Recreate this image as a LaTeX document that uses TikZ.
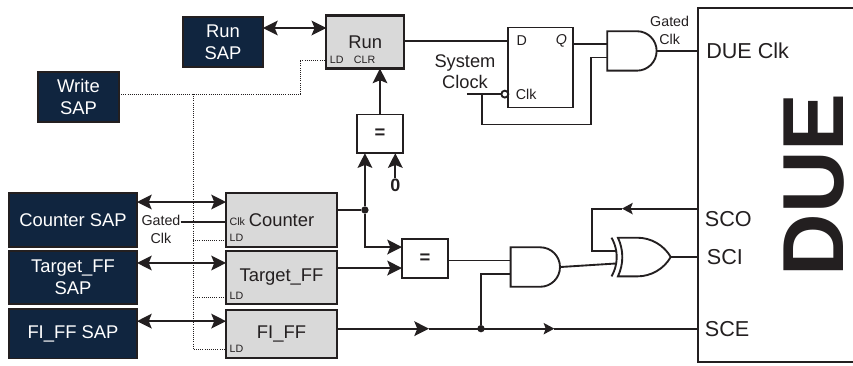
\documentclass[tikz,border=0pt]{standalone}
\usepackage{fontspec}
\setmainfont{Liberation Sans}
\usetikzlibrary{shapes,shapes.gates.logic.US,arrows.meta,positioning,calc}
\definecolor{sapblue}{HTML}{10253F}
\definecolor{reggray}{HTML}{D9D9D9}
\definecolor{inkdark}{HTML}{231F20}
\tikzstyle{sapbox} = [rectangle, draw=inkdark, line width=1pt, fill=sapblue, text=white, align=center, outer sep=0pt, minimum width=96pt, font=\fontsize{13.8}{16.5}\selectfont]
\tikzstyle{reg} = [rectangle, draw=inkdark, line width=1.6pt, fill=reggray, text=inkdark, outer sep=0pt, minimum width=83.25pt, font=\fontsize{13.8}{16}\selectfont]
\tikzstyle{eqbox} = [rectangle, draw=inkdark, line width=1.4pt, fill=white, text=inkdark, outer sep=0pt, minimum width=34.5pt, minimum height=29pt, font=\fontsize{13.8}{16}\bfseries]
\tikzstyle{ldlabel} = [text=inkdark, inner xsep=2.5pt, inner ysep=3.5pt, font=\fontsize{8}{9}\selectfont]
\tikzstyle{midlabel} = [text=inkdark, inner sep=0pt, align=center, font=\fontsize{10.7}{13.5}\selectfont]
\tikzstyle{bigtext} = [text=inkdark, inner sep=0pt, align=center, font=\fontsize{13.7}{16}\selectfont]
\tikzstyle{port} = [text=inkdark, inner sep=0pt, anchor=west, font=\fontsize{16.2}{19}\selectfont]
\tikzstyle{gate} = [draw=inkdark, line width=1.4pt, logic gate inputs=nn, outer sep=0pt]
\tikzstyle{wire} = [draw=inkdark, line width=1.4pt]
\tikzstyle{heavy} = [draw=inkdark, line width=1.6pt]
\tikzstyle{dotline} = [draw=inkdark, line width=0.6pt, densely dotted]
\tikzstyle{jct} = [circle, fill=inkdark, inner sep=0pt, minimum size=5.5pt]
\tikzstyle{smalltip} = [-{Stealth[length=8pt,width=8.5pt,inset=1.6pt]}]
\begin{document}
\begin{tikzpicture}[x=0.75pt, y=-0.75pt, >={Stealth[length=11pt,width=11pt,inset=2.2pt]}]
    \useasboundingbox (0,0) rectangle (853,365);

    \node[sapbox, minimum height=40.5pt] (countersap) at (73,220) {Counter SAP};
    \node[sapbox, minimum height=39.75pt, below=3pt of countersap] (targetsap) {Target\_FF\\SAP};
    \node[sapbox, minimum height=37pt, below=3.75pt of targetsap] (fisap) {FI\_FF SAP};
    \node[sapbox, minimum width=60.75pt, minimum height=37.5pt, above=53.25pt of countersap, xshift=4.1pt] (writesap) {Write\\SAP};
    \node[sapbox, minimum width=60pt, minimum height=37.5pt, right=48pt of writesap, yshift=41.25pt] (runsap) {Run\\SAP};

    \node[reg, minimum height=40pt, right=66.75pt of countersap] (counter) {Counter};
    \node[reg, minimum height=40pt, right=66.75pt of targetsap] (target) {Target\_FF};
    \node[reg, minimum height=36pt, right=66.75pt of fisap] (fiff) {FI\_FF};
    \node[reg, minimum width=58.5pt, minimum height=39.75pt, right=47.5pt of runsap] (run) {Run};

    \node[ldlabel, anchor=south west] (runld) at (run.south west) {LD};
    \node[ldlabel, anchor=south west, xshift=18pt] (runclr) at (run.south west) {CLR};
    \node[ldlabel, anchor=south west] (counterld) at (counter.south west) {LD};
    \node[ldlabel, anchor=west, yshift=-1.5pt] (counterclk) at (counter.west) {Clk};
    \node[ldlabel, anchor=south west] (targetld) at (target.south west) {LD};
    \node[ldlabel, anchor=south west] (fild) at (fiff.south west) {LD};

    \node[eqbox, below=34.5pt of run, xshift=11pt] (eqtop) {=};
    \node[eqbox, right=48.75pt of target, yshift=14.25pt] (eqlow) {=};
    \node[inner sep=0pt, text=inkdark, font=\fontsize{13.5}{15}\bfseries, below=18.75pt of eqtop, xshift=11.5pt] (zero) {0};

    \node[rectangle, draw=inkdark, line width=1.4pt, fill=white, outer sep=0pt, minimum width=48.75pt, minimum height=60pt, right=78pt of run, yshift=-19.1pt] (dff) {};
    \node[midlabel, anchor=west] (dffd) at ([xshift=6pt,yshift=20pt]dff.west) {D};
    \node[midlabel, anchor=east] (dffq) at ([xshift=-4.5pt,yshift=20pt]dff.east) {\itshape Q};
    \node[midlabel, anchor=west] (dffclk) at ([xshift=5.5pt,yshift=-20pt]dff.west) {Clk};
    \node[circle, draw=inkdark, line width=1.4pt, fill=white, inner sep=0pt, minimum size=5.2pt, outer sep=0pt, anchor=east] (bubble) at ([yshift=-20pt]dff.west) {};
    \node[bigtext, left=4.25pt of bubble, yshift=17pt] (sysclk) {System\\Clock};

    \node[and gate US, gate, minimum width=37pt, minimum height=29pt, right=25.5pt of dff, yshift=12.4pt] (andtop) {};
    \node[and gate US, gate, minimum width=37pt, minimum height=29pt, right=47pt of eqlow, yshift=-6.4pt] (andlow) {};
    \node[xor gate US, gate, minimum width=38pt, minimum height=29pt, right=42.5pt of andlow, yshift=7.5pt] (xorgate) {};

    \node[minimum width=116.25pt, minimum height=265.5pt, inner sep=0pt, outer sep=0pt] (due) at (775.5,185) {};
    \node[text=inkdark, rotate=90, inner sep=0pt, font=\fontsize{65}{65}\bfseries] (duetext) at ([xshift=29pt]due.center) {DUE};
    \node[midlabel, above right=4.5pt and -5pt of andtop.output] (gatedtop) {Gated\\Clk};
    \node[midlabel, left=34pt of counterclk, yshift=-5.5pt] (gatedleft) {Gated\\Clk};

    \coordinate (counterout) at ([yshift=7.5pt]counter.east);
    \node[jct, right=18pt of counterout] (cntjct) {};
    \coordinate (eqin) at ([yshift=8.6pt]eqlow.west);
    \coordinate (fiout) at ([yshift=3.75pt]fiff.east);
    \coordinate (writeout) at ([yshift=2.25pt]writesap.east);
    \coordinate (runbend) at ([xshift=-19.5pt]run.west |- runld);
    \coordinate (busjct) at ([xshift=55.5pt]writeout);
    \coordinate (clkin) at ([xshift=-25.9pt]bubble.west);
    \coordinate (clkfb) at ([xshift=-14.6pt]bubble.west);
    \coordinate (clkret) at ([xshift=13.5pt,yshift=-12.75pt]dff.south east);
    \coordinate (scoport) at ([yshift=31.5pt]due.west |- xorgate.input 1);
    \coordinate (scomid) at ([xshift=-57pt]scoport);
    \coordinate (scofb) at ([xshift=-79.5pt]scoport);
    \coordinate (scein) at (fiout -| due.west);

    \draw[heavy, <->] ([yshift=10.5pt]runsap.east) -- ([yshift=10.5pt]runsap.east -| run.west);
    \draw[heavy, <->] ([yshift=13.5pt]countersap.east) -- ([yshift=13.5pt]countersap.east -| counter.west);
    \draw[heavy, <->] ([yshift=10.9pt]targetsap.east) -- ([yshift=10.9pt]targetsap.east -| target.west);
    \draw[heavy, <->] ([yshift=9.4pt]fisap.east) -- ([yshift=9.4pt]fisap.east -| fiff.west);

    \draw[dotline] (writeout) -| (runbend) -- (run.west |- runbend);
    \draw[dotline] (busjct) |- (fiff.west |- fild);
    \draw[dotline] ([yshift=-2pt]busjct |- counterld) -- ([yshift=-2pt]counter.west |- counterld);
    \draw[dotline] ([yshift=-1pt]busjct |- targetld) -- ([yshift=-1pt]target.west |- targetld);

    \draw[heavy] (gatedleft.east |- counterclk) -- (counter.west |- counterclk);
    \draw[heavy] (counterout) -- (cntjct);
    \draw[heavy, ->] (cntjct) -- (cntjct |- eqtop.south);
    \draw[heavy, ->] (cntjct) |- (eqin);
    \draw[heavy, ->] ([yshift=7.1pt]target.east) -- ([yshift=7.1pt]target.east -| eqlow.west);
    \draw[heavy, ->] (eqtop) -- (eqtop |- run.south);
    \draw[heavy, ->] (zero) -- (zero |- eqtop.south);

    \draw[wire] (run.east |- dffd) -- (dff.west |- dffd);
    \draw[wire] (dff.east |- andtop.input 1) -- (andtop.input 1);
    \draw[wire] (clkin) -- (bubble);
    \draw[wire] (clkfb) |- (clkret) |- (andtop.input 2);
    \draw[wire] (andtop.output) -- (andtop.output -| due.west);

    \draw[wire] (eqlow.east |- andlow.input 1) -- (andlow.input 1);
    \draw[wire] (andlow.output) -- (xorgate.input 2);
    \draw[wire] (xorgate.output) -- (xorgate.output -| due.west);
    \draw[wire, smalltip] (scoport) -- (scomid);
    \draw[wire] (scomid) -| (scofb) |- (xorgate.input 1);

    \draw[wire, ->] (fiout) -- ([xshift=69pt]fiout);
    \draw[wire, smalltip] ([xshift=69pt]fiout) -- ([xshift=163pt]fiout);
    \draw[wire] ([xshift=163pt]fiout) -- (scein);
    \node[jct] (scejct) at ([xshift=108pt]fiout) {};
    \draw[wire] (scejct) |- (andlow.input 2);

    \draw[draw=inkdark, line width=2.2pt] (due.north east) -- (due.north west) -- (due.south west) -- (due.south east);
    \node[port, right=6pt of due.west |- andtop.output] (dueclk) {DUE Clk};
    \node[port, right=5pt of due.west |- scoport, yshift=-8pt] (sco) {SCO};
    \node[port, right=6.5pt of due.west |- xorgate.output] (sci) {SCI};
    \node[port, right=5pt of scein] (sce) {SCE};
\end{tikzpicture}
\end{document}
